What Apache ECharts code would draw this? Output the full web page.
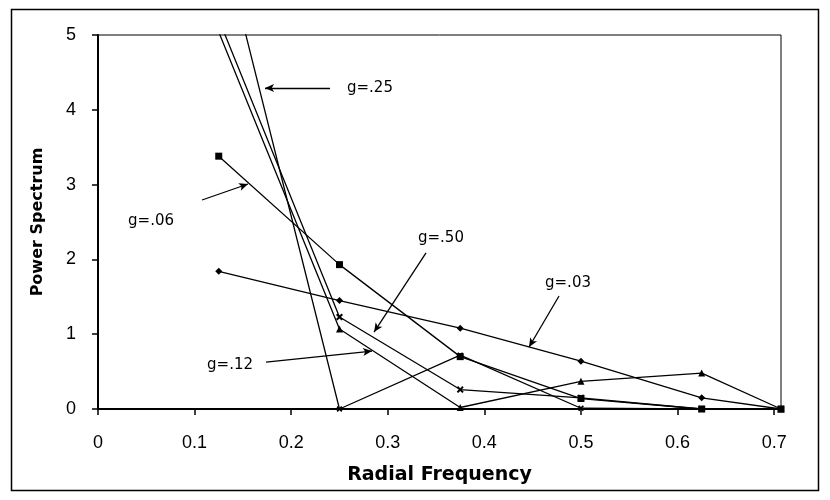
<!DOCTYPE html>
<html>
<head>
<meta charset="utf-8">
<script src="https://cdn.jsdelivr.net/npm/echarts@6/dist/echarts.min.js"></script>
<style>
	html, body { margin: 0; padding: 0; background: #fff; }
	#chart { width: 830px; height: 500px; }
</style>
</head>
<body>
<div id="chart"></div>
<script>
var freq = [0.125, 0.25, 0.375, 0.5, 0.625, 0.7071];
var g03 = [1.84, 1.45, 1.08, 0.64, 0.15, 0];
var g06 = [3.38, 1.93, 0.70, 0.14, 0, 0];
var g12 = [5.04, 1.07, 0.02, 0.37, 0.48, 0];
var g50 = [5.21, 1.23, 0.26, 0.15, 0, 0];
var g25 = [6.45, 0, 0.72, 0.01, 0, 0];
var xTicks = [0, 0.1, 0.2, 0.3, 0.4, 0.5, 0.6, 0.7];

// callouts: label, text anchor, arrow tail, arrow head (data units)
var notes = [
	['g=.25', [0.2578, 4.29], [0.2402, 4.291], [0.1729, 4.291]],
	['g=.06', [0.0311, 2.513], [0.1077, 2.794], [0.1553, 3.008]],
	['g=.50', [0.3313, 2.286], [0.3396, 2.086], [0.2858, 1.029]],
	['g=.03', [0.4628, 1.684], [0.4773, 1.511], [0.4463, 0.829]],
	['g=.12', [0.1129, 0.588], [0.1739, 0.628], [0.2837, 0.775]]
];

(function() {
	var myChart = echarts.init(document.getElementById('chart'));
	var cross = 'path://M2,0L5,3L8,0L10,2L7,5L10,8L8,10L5,7L2,10L0,8L3,5L0,2Z';

	function pairs(ys) {
		return freq.map(function(x, i) { return [x, ys[i]]; });
	}

	function line(name, ys, symbol, size) {
		return {
			name: name,
			type: 'line',
			data: pairs(ys),
			symbol: symbol,
			symbolSize: size,
			clip: true,
			animation: false,
			lineStyle: { color: '#000', width: 1.3 },
			itemStyle: { color: '#000' }
		};
	}

	var arrows = {
		name: 'notes',
		type: 'line',
		data: [],
		animation: false,
		markLine: {
			silent: true,
			animation: false,
			symbol: ['none', 'arrow'],
			symbolSize: [6, 9],
			label: { show: false },
			lineStyle: { color: '#000', width: 1.3, type: 'solid' },
			data: notes.map(function(n) {
				return [{ coord: n[2] }, { coord: n[3] }];
			})
		}
	};

	option = {
		backgroundColor: '#fff',
		grid: {
			left: 98,
			right: 49,
			top: 35,
			bottom: 91,
			show: true,
			borderColor: '#000',
			borderWidth: 1
		},
		xAxis: {
			type: 'value',
			min: 0,
			max: 0.7071,
			name: 'Radial Frequency',
			nameLocation: 'middle',
			nameGap: 57,
			nameTextStyle: { fontFamily: 'DejaVu Sans', fontWeight: 'bold', fontSize: 19, color: '#000' },
			splitLine: { show: false },
			axisLine: { lineStyle: { color: '#000', width: 2 } },
			axisTick: { inside: false, length: 6, customValues: xTicks, lineStyle: { color: '#000', width: 1.5 } },
			axisLabel: { customValues: xTicks, margin: 25, fontFamily: 'Liberation Sans', fontSize: 18, color: '#000' }
		},
		yAxis: {
			type: 'value',
			min: 0,
			max: 5,
			interval: 1,
			name: 'Power Spectrum',
			nameLocation: 'middle',
			nameGap: 52,
			nameTextStyle: { fontFamily: 'DejaVu Sans', fontWeight: 'bold', fontSize: 16, color: '#000' },
			splitLine: { show: false },
			axisLine: { lineStyle: { color: '#000', width: 2 } },
			axisTick: { inside: false, length: 6, lineStyle: { color: '#000', width: 1.5 } },
			axisLabel: { margin: 22, fontFamily: 'Liberation Sans', fontSize: 18, color: '#000' }
		},
		series: [
			line('g=.03', g03, 'diamond', 7),
			line('g=.06', g06, 'rect', 7),
			line('g=.12', g12, 'triangle', 7),
			line('g=.50', g50, cross, 7),
			line('g=.25', g25, cross, 6),
			arrows
		],
		animation: false
	};

	myChart.setOption(option);

	var texts = notes.map(function(n) {
		var p = myChart.convertToPixel({ gridIndex: 0 }, n[1]);
		return {
			type: 'text',
			x: p[0],
			y: p[1],
			style: {
				text: n[0],
				fill: '#000',
				font: '15px "DejaVu Sans"',
				verticalAlign: 'middle',
				align: 'left'
			}
		};
	});
	texts.push({
		type: 'rect',
		shape: { x: 11.5, y: 9.5, width: 807, height: 481 },
		style: { fill: null, stroke: '#000', lineWidth: 1.5 },
		silent: true
	});

	myChart.setOption({ graphic: texts });
})();
</script>
</body>
</html>
